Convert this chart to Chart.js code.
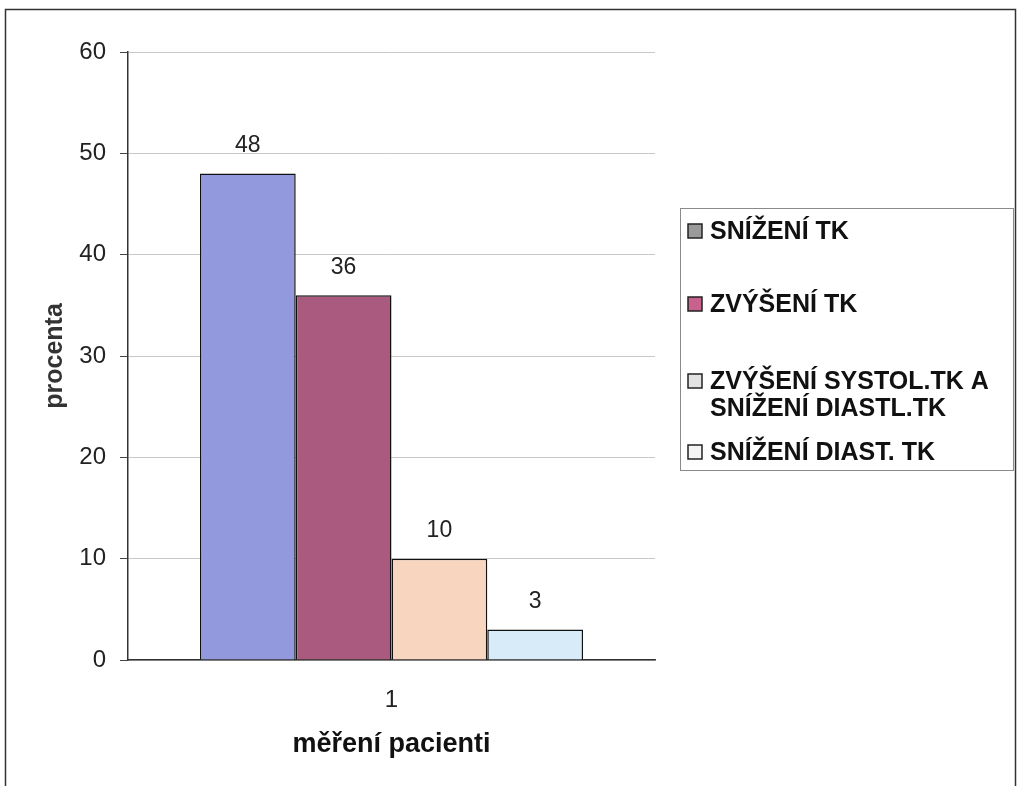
<!DOCTYPE html>
<html>
<head>
<meta charset="utf-8">
<script src="https://cdn.jsdelivr.net/npm/chart.js@4"></script>
<style>
  html, body { margin: 0; padding: 0; background: #fff; }
  #wrap { width: 1022px; height: 786px; }
</style>
</head>
<body>
<div id="wrap"><canvas id="graf" width="1022" height="786"></canvas></div>
<script>
// data z grafu
const categories = ['1'];
const seriesNames = [
  ['SNÍŽENÍ TK'],
  ['ZVÝŠENÍ TK'],
  ['ZVÝŠENÍ SYSTOL.TK A', 'SNÍŽENÍ DIASTL.TK'],
  ['SNÍŽENÍ DIAST. TK']
];
const values = [48, 36, 10, 3];
const barColors = ['#9299dc', '#aa5a7e', '#f8d5bf', '#d8ebf8'];
const legendColors = ['#9a9a9a', '#c8618c', '#e2e2e2', '#f4f4f4'];
const yMin = 0, yMax = 60, yStep = 10;

const FONT = 'Arial, "Liberation Sans", sans-serif';

// ramecek kolem celeho grafu
const ramecek = {
  id: 'ramecek',
  beforeDraw(chart) {
    const ctx = chart.ctx;
    ctx.save();
    ctx.fillStyle = '#fff';
    ctx.fillRect(0, 0, chart.width, chart.height);
    ctx.strokeStyle = '#333';
    ctx.lineWidth = 1.5;
    ctx.strokeRect(5.5, 9.5, 1010, 800);
    ctx.restore();
  }
};

// hodnoty nad sloupci
const hodnoty = {
  id: 'hodnoty',
  afterDatasetsDraw(chart) {
    const ctx = chart.ctx;
    ctx.save();
    ctx.font = '23px ' + FONT;
    ctx.fillStyle = '#222';
    ctx.textAlign = 'center';
    ctx.textBaseline = 'middle';
    chart.data.datasets.forEach((ds, i) => {
      chart.getDatasetMeta(i).data.forEach((bar, j) => {
        ctx.fillText(String(ds.data[j]), bar.x, bar.y - 28);
      });
    });
    ctx.restore();
  }
};

// legenda vpravo
const legenda = {
  id: 'legenda',
  afterDraw(chart, args, opts) {
    const ctx = chart.ctx;
    ctx.save();
    ctx.strokeStyle = '#8a8a8a';
    ctx.lineWidth = 1;
    ctx.strokeRect(680.5, 208.5, 333, 262);
    ctx.font = 'bold 25px ' + FONT;
    ctx.textBaseline = 'middle';
    chart.data.datasets.forEach((ds, i) => {
      const y = opts.rowY[i];
      ctx.fillStyle = legendColors[i];
      ctx.fillRect(688, y - 7, 14, 14);
      ctx.strokeStyle = '#222';
      ctx.lineWidth = 1.5;
      ctx.strokeRect(688, y - 7, 14, 14);
      ctx.fillStyle = '#111';
      const lines = Array.isArray(ds.label) ? ds.label : [ds.label];
      lines.forEach((t, k) => ctx.fillText(t, 710, y + 1 + k * 27));
    });
    ctx.restore();
  }
};

new Chart(document.getElementById('graf'), {
  type: 'bar',
  data: {
    labels: categories,
    datasets: seriesNames.map((name, i) => ({
      label: name,
      data: [values[i]],
      backgroundColor: barColors[i],
      borderColor: '#111',
      borderWidth: 1.5,
      categoryPercentage: 0.727,
      barPercentage: 1
    }))
  },
  options: {
    responsive: false,
    animation: false,
    layout: { padding: { top: 52, right: 367, bottom: 0, left: 0 } },
    plugins: {
      legend: { display: false },
      tooltip: { enabled: false },
      legenda: { rowY: [231, 304, 381, 452] }
    },
    scales: {
      x: {
        afterFit(scale) { scale.height = 126; },
        grid: { display: false },
        border: { color: '#333', width: 1.5 },
        ticks: { color: '#222', font: { size: 24, family: FONT }, padding: 18 },
        title: {
          display: true,
          text: 'měření pacienti',
          color: '#111',
          font: { size: 27, weight: 'bold', family: FONT },
          padding: { top: 4, bottom: 25 }
        }
      },
      y: {
        min: yMin,
        max: yMax,
        afterFit(scale) { scale.width = 128; },
        grid: { color: '#c8c8c8', lineWidth: 1, tickLength: 8, tickColor: '#444' },
        border: { color: '#333', width: 1.5 },
        ticks: {
          stepSize: yStep,
          color: '#222',
          font: { size: 24, family: FONT },
          padding: 14
        },
        title: {
          display: true,
          text: 'procenta',
          color: '#333',
          font: { size: 25, weight: 'bold', family: FONT },
          padding: { top: 40, bottom: 4 }
        }
      }
    }
  },
  plugins: [ramecek, hodnoty, legenda]
});
</script>
</body>
</html>
